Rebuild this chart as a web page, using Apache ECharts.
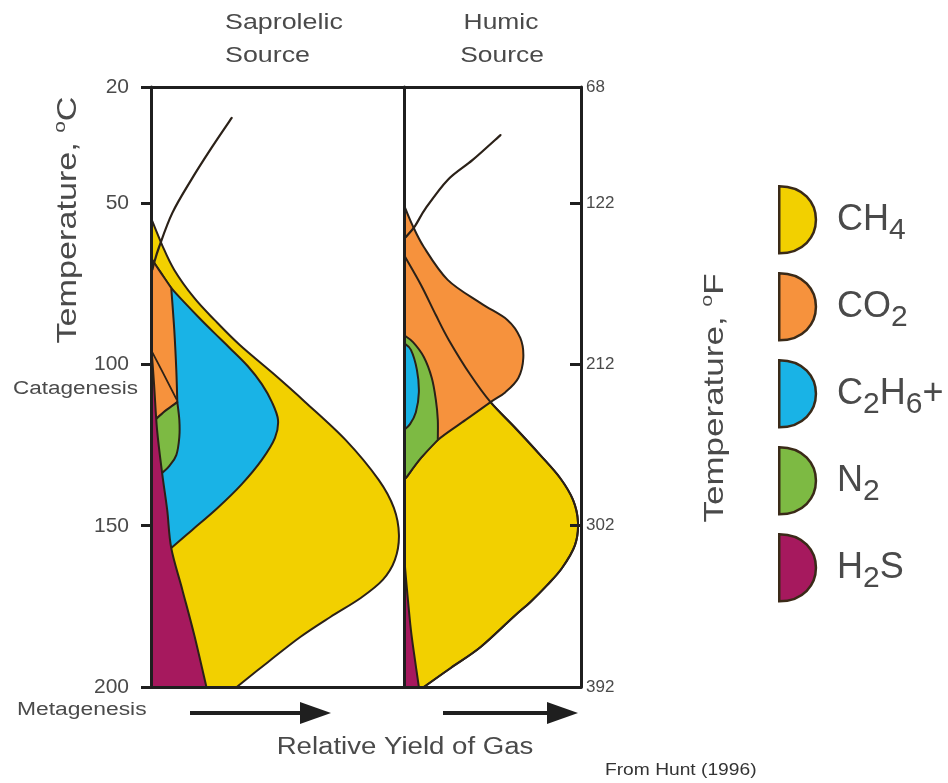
<!DOCTYPE html>
<html>
<head>
<meta charset="utf-8">
<title>Gas generation with temperature</title>
<script src="https://cdn.jsdelivr.net/npm/echarts@6.0.0/dist/echarts.min.js"></script>
<style>
  html, body { margin: 0; padding: 0; background: #ffffff; }
  #chart { width: 948px; height: 783px; }
</style>
</head>
<body>
<div id="chart"></div>
<script>
// ---------------------------------------------------------------------------
// Temperature axis (°C, increasing downward). The column top is drawn
// compressed in this classic diagram: its tick reads 20 °C / 68 °F.
// ---------------------------------------------------------------------------
const tempAxisTop = 14;
const tempAxisBottom = 200;
const celsiusTickValues = [tempAxisTop, 50, 100, 150, 200];
const celsiusTickLabels = ['20', '50', '100', '150', '200'];
const fahrenheitTickLabels = ['68', '122', '212', '302', '392'];
const fahrenheitTickMarks = [50, 100, 150];

// Gases, in legend order
const gasNames = ['CH4', 'CO2', 'C2H6+', 'N2', 'H2S'];
const gasColors = ['#f2d000', '#f6923d', '#19b3e6', '#7dba43', '#a6195e'];
const gasLabels = [
  '{h|\u200b}{a|CH}{b|4}',
  '{h|\u200b}{a|CO}{b|2}',
  '{h|\u200b}{a|C}{b|2}{a|H}{b|6}{a|+}',
  '{h|\u200b}{a|N}{b|2}',
  '{h|\u200b}{a|H}{b|2}{a|S}'
];

// ---------------------------------------------------------------------------
// Region outlines as [relative yield (0-1 of panel), temperature °C].
// Each outline is a list of runs; a run is drawn as one smooth curve and
// consecutive runs meet at a corner. Outlines close back to their start.
// ---------------------------------------------------------------------------

// Saprolelic source
const sapCH4 = [
  [[0, 54.6], [0.044, 63.0], [0.092, 70.7], [0.171, 79.4], [0.251, 86.2], [0.351, 94.0],
   [0.490, 103.3], [0.610, 111.7], [0.769, 123.4], [0.900, 135.8], [0.960, 144.5],
   [0.980, 152.9], [0.964, 160.6], [0.916, 166.8], [0.829, 172.4], [0.709, 178.3],
   [0.590, 184.5], [0.462, 192.3], [0.339, 200]],
  [[0.339, 200], [0, 200]]
];
const sapC2H6 = [
  [[0, 67.0], [0.040, 71.7], [0.080, 76.3], [0.131, 80.7], [0.191, 85.6], [0.251, 90.3],
   [0.311, 94.9], [0.382, 100.5], [0.438, 106.1], [0.478, 111.7], [0.502, 117.2],
   [0.490, 122.8], [0.438, 129.6], [0.359, 137.1], [0.263, 144.5], [0.163, 151.3],
   [0.080, 156.9]],
  [[0.080, 156.9], [0, 156.9]]
];
const sapCO2 = [
  [[0, 67.0], [0.040, 71.7], [0.080, 76.3]],
  [[0.080, 76.3], [0.092, 89.3], [0.100, 101.7], [0.104, 111.7]],
  [[0.104, 111.7], [0.024, 116.6], [0, 117.2]]
];
const sapN2 = [
  [[0.012, 117.5], [0.056, 114.4], [0.104, 111.7]],
  [[0.104, 111.7], [0.112, 117.2], [0.112, 122.5], [0.100, 128.1], [0.072, 131.5], [0.044, 133.7]],
  [[0.044, 133.7], [0, 133.7]]
];
const sapH2S = [
  [[0, 93.0], [0.012, 106.0], [0.024, 120.3], [0.044, 133.7], [0.064, 145.1], [0.080, 156.9],
   [0.124, 169.9], [0.171, 183.9], [0.219, 200]],
  [[0.219, 200], [0, 200]]
];
const sapN2Upper = [
  [[0, 95.5], [0.048, 102.7], [0.100, 110.7]]
];
const sapMaturity = [
  [[0.319, 23.6], [0.239, 32.9], [0.159, 42.8], [0.084, 53.1], [0.032, 63.6], [0.012, 68.6], [0.006, 70.5]]
];

// Humic source
const humCH4 = [
  [[0, 66.1], [0.096, 75.4], [0.180, 84.7], [0.253, 92.4], [0.376, 103.3], [0.489, 111.7],
   [0.629, 119.7], [0.770, 128.1], [0.882, 135.2], [0.955, 142.0], [0.983, 148.9],
   [0.966, 156.0], [0.893, 163.1], [0.809, 168.4], [0.713, 173.7], [0.618, 178.3],
   [0.433, 187.6], [0.264, 194.1], [0.112, 200]],
  [[0.112, 200], [0, 200]]
];
const humCO2 = [
  [[0, 50.6], [0.045, 56.5], [0.112, 63.6], [0.247, 73.8], [0.433, 81.0], [0.584, 86.2],
   [0.657, 91.8], [0.674, 98.0], [0.646, 104.2], [0.573, 108.6], [0.489, 111.7],
   [0.348, 117.2], [0.191, 123.4], [0.096, 129.0], [0.011, 135.2]],
  [[0.011, 135.2], [0, 135.2]]
];
const humN2 = [
  [[0, 90.9], [0.051, 93.1], [0.112, 97.7], [0.157, 104.2], [0.180, 111.0], [0.191, 117.2], [0.191, 123.4]],
  [[0.191, 123.4], [0.096, 129.0], [0.011, 135.2]],
  [[0.011, 135.2], [0, 135.2]]
];
const humC2H6 = [
  [[0, 93.4], [0.039, 95.5], [0.073, 101.7], [0.084, 108.6], [0.067, 114.8], [0.034, 118.5], [0, 120.3]]
];
const humH2S = [
  [[0, 159.1], [0.017, 169.9], [0.039, 182.3], [0.062, 191.6], [0.084, 200]],
  [[0.084, 200], [0, 200]]
];
const humMaturity = [
  [[0.545, 28.9], [0.388, 36.6], [0.247, 42.8], [0.124, 51.5], [0.062, 57.1], [0.011, 60.5]]
];

// ---------------------------------------------------------------------------
const FONT = '"Liberation Sans", Arial, Helvetica, sans-serif';
const INK = '#1f1f1f';
const OUTLINE = '#2b2118';
const TEXT = '#4a4a4a';

const SAP = { x: 0, y: 0 };
const HUM = { x: 2, y: 2 };

// Smooth (Catmull-Rom) path through the runs, in pixel space via the axes.
function outlinePath(api, runs, closed) {
  let d = '';
  runs.forEach(function (run, k) {
    const pts = run.map(function (p) { return api.coord(p); });
    if (k === 0) d += 'M' + pts[0][0] + ',' + pts[0][1];
    for (let i = 0; i < pts.length - 1; i++) {
      const p0 = pts[Math.max(i - 1, 0)];
      const p1 = pts[i];
      const p2 = pts[i + 1];
      const p3 = pts[Math.min(i + 2, pts.length - 1)];
      const c1x = p1[0] + (p2[0] - p0[0]) / 6, c1y = p1[1] + (p2[1] - p0[1]) / 6;
      const c2x = p2[0] - (p3[0] - p1[0]) / 6, c2y = p2[1] - (p3[1] - p1[1]) / 6;
      d += 'C' + c1x + ',' + c1y + ',' + c2x + ',' + c2y + ',' + p2[0] + ',' + p2[1];
    }
  });
  if (closed) d += 'Z';
  return d;
}

function regionSeries(gas, runs, panel) {
  const color = gasColors[gasNames.indexOf(gas)];
  return {
    type: 'custom',
    name: gas,
    coordinateSystem: 'cartesian2d',
    xAxisIndex: panel.x,
    yAxisIndex: panel.y,
    clip: true,
    silent: true,
    itemStyle: { color: color, borderColor: OUTLINE, borderWidth: 2 },
    data: [[0.5, 100]],
    renderItem: function (params, api) {
      return {
        type: 'path',
        shape: { pathData: outlinePath(api, runs, true) },
        style: { fill: color, stroke: OUTLINE, lineWidth: 2, lineJoin: 'round' }
      };
    }
  };
}

function strokeSeries(id, runs, panel, width) {
  return {
    type: 'custom',
    id: id,
    coordinateSystem: 'cartesian2d',
    xAxisIndex: panel.x,
    yAxisIndex: panel.y,
    clip: true,
    silent: true,
    data: [[0.5, 100]],
    renderItem: function (params, api) {
      return {
        type: 'path',
        shape: { pathData: outlinePath(api, runs, false) },
        style: { fill: 'none', stroke: OUTLINE, lineWidth: width, lineCap: 'round' }
      };
    }
  };
}

const frameLine = { color: INK, width: 3 };

function xFrame(gridIndex, position) {
  return {
    type: 'value', gridIndex: gridIndex, min: 0, max: 1, position: position, z: 10,
    axisLine: { show: true, onZero: false, lineStyle: frameLine },
    axisTick: { show: false }, axisLabel: { show: false }, splitLine: { show: false }
  };
}

const chart = echarts.init(document.getElementById('chart'), null, { renderer: 'canvas' });

chart.setOption({
  animation: false,
  backgroundColor: '#ffffff',
  grid: [
    { left: 151, top: 87, width: 253, height: 600 },
    { left: 404, top: 87, width: 177, height: 600 }
  ],
  xAxis: [xFrame(0, 'bottom'), xFrame(0, 'top'), xFrame(1, 'bottom'), xFrame(1, 'top')],
  yAxis: [
    {
      type: 'value', gridIndex: 0, min: tempAxisTop, max: tempAxisBottom, inverse: true,
      position: 'left', z: 10,
      axisLine: { show: true, onZero: false, lineStyle: frameLine },
      axisTick: { show: true, inside: false, length: 10, customValues: celsiusTickValues,
                  lineStyle: { color: INK, width: 3 } },
      axisLabel: {
        customValues: celsiusTickValues, margin: 22,
        formatter: function (v) { return celsiusTickLabels[celsiusTickValues.indexOf(v)]; },
        fontFamily: FONT, fontSize: 21, color: TEXT
      },
      splitLine: { show: false }
    },
    {
      type: 'value', gridIndex: 0, min: tempAxisTop, max: tempAxisBottom, inverse: true,
      position: 'right', z: 10,
      axisLine: { show: true, onZero: false, lineStyle: frameLine },
      axisTick: { show: false }, axisLabel: { show: false }, splitLine: { show: false }
    },
    {
      type: 'value', gridIndex: 1, min: tempAxisTop, max: tempAxisBottom, inverse: true,
      position: 'right', z: 10,
      axisLine: { show: true, onZero: false, lineStyle: frameLine },
      axisTick: { show: true, inside: true, length: 11, customValues: fahrenheitTickMarks,
                  lineStyle: { color: INK, width: 3 } },
      axisLabel: {
        customValues: celsiusTickValues, margin: 5,
        formatter: function (v) { return fahrenheitTickLabels[celsiusTickValues.indexOf(v)]; },
        fontFamily: FONT, fontSize: 17, color: TEXT
      },
      splitLine: { show: false }
    }
  ],
  legend: {
    data: gasNames,
    orient: 'vertical',
    left: 773,
    top: 180,
    itemWidth: 37,
    itemHeight: 67,
    itemGap: 17.5,
    selectedMode: false,
    icon: 'path://M0,0C73,0,73,100,0,100Z',
    itemStyle: { borderColor: '#3a2a18', borderWidth: 2.5 },
    formatter: function (name) { return gasLabels[gasNames.indexOf(name)]; },
    textStyle: {
      color: TEXT,
      fontFamily: FONT,
      padding: [8, 0, 0, 16],
      rich: {
        h: { fontSize: 1, lineHeight: 44, width: 0 },
        a: { fontFamily: FONT, fontSize: 36, lineHeight: 36, color: TEXT, verticalAlign: 'top' },
        b: { fontFamily: FONT, fontSize: 30, lineHeight: 30, color: TEXT, verticalAlign: 'bottom' }
      }
    }
  },
  graphic: [
    { type: 'text', x: 225, y: 23, scaleX: 1.22,
      style: { text: 'Saprolelic', fontFamily: FONT, fontSize: 22, fill: TEXT, align: 'left', verticalAlign: 'middle' } },
    { type: 'text', x: 225, y: 56, scaleX: 1.22,
      style: { text: 'Source', fontFamily: FONT, fontSize: 22, fill: TEXT, align: 'left', verticalAlign: 'middle' } },
    { type: 'text', x: 501, y: 23, scaleX: 1.2,
      style: { text: 'Humic', fontFamily: FONT, fontSize: 22, fill: TEXT, align: 'center', verticalAlign: 'middle' } },
    { type: 'text', x: 502, y: 56, scaleX: 1.2,
      style: { text: 'Source', fontFamily: FONT, fontSize: 22, fill: TEXT, align: 'center', verticalAlign: 'middle' } },
    { type: 'text', x: 67, y: 220, rotation: Math.PI / 2, scaleX: 1.22,
      style: {
        text: '{t|Temperature, }{s|o}{t|C}', align: 'center', verticalAlign: 'middle',
        rich: {
          t: { fontFamily: FONT, fontSize: 28, lineHeight: 30, fill: TEXT, verticalAlign: 'bottom' },
          s: { fontFamily: FONT, fontSize: 17, lineHeight: 17, fill: TEXT, verticalAlign: 'top' }
        }
      } },
    { type: 'text', x: 714, y: 398, rotation: Math.PI / 2, scaleX: 1.25,
      style: {
        text: '{t|Temperature, }{s|o}{t|F}', align: 'center', verticalAlign: 'middle',
        rich: {
          t: { fontFamily: FONT, fontSize: 28, lineHeight: 30, fill: TEXT, verticalAlign: 'bottom' },
          s: { fontFamily: FONT, fontSize: 17, lineHeight: 17, fill: TEXT, verticalAlign: 'top' }
        }
      } },
    { type: 'text', x: 138, y: 389, scaleX: 1.25,
      style: { text: 'Catagenesis', fontFamily: FONT, fontSize: 18, fill: TEXT, align: 'right', verticalAlign: 'middle' } },
    { type: 'text', x: 17, y: 710, scaleX: 1.27,
      style: { text: 'Metagenesis', fontFamily: FONT, fontSize: 18, fill: TEXT, align: 'left', verticalAlign: 'middle' } },
    { type: 'text', x: 405, y: 748, scaleX: 1.2,
      style: { text: 'Relative Yield of Gas', fontFamily: FONT, fontSize: 23, fill: TEXT, align: 'center', verticalAlign: 'middle' } },
    { type: 'text', x: 605, y: 771, scaleX: 1.2,
      style: { text: 'From Hunt (1996)', fontFamily: FONT, fontSize: 16, fill: '#333333', align: 'left', verticalAlign: 'middle' } },
    // direction arrows for increasing yield
    { type: 'line', shape: { x1: 190, y1: 713, x2: 304, y2: 713 }, style: { stroke: INK, lineWidth: 4 } },
    { type: 'polygon', shape: { points: [[300, 702], [331, 713], [300, 724]] }, style: { fill: INK } },
    { type: 'line', shape: { x1: 443, y1: 713, x2: 551, y2: 713 }, style: { stroke: INK, lineWidth: 4 } },
    { type: 'polygon', shape: { points: [[547, 702], [578, 713], [547, 724]] }, style: { fill: INK } }
  ],
  series: [
    // Saprolelic source
    regionSeries('CH4', sapCH4, SAP),
    regionSeries('C2H6+', sapC2H6, SAP),
    regionSeries('CO2', sapCO2, SAP),
    regionSeries('N2', sapN2, SAP),
    regionSeries('H2S', sapH2S, SAP),
    strokeSeries('sap-n2-upper', sapN2Upper, SAP, 1.8),
    strokeSeries('sap-maturity', sapMaturity, SAP, 2.2),
    // Humic source
    regionSeries('CH4', humCH4, HUM),
    regionSeries('CO2', humCO2, HUM),
    regionSeries('N2', humN2, HUM),
    regionSeries('C2H6+', humC2H6, HUM),
    regionSeries('H2S', humH2S, HUM),
    strokeSeries('hum-ch4-envelope', [humCH4[0]], HUM, 2),
    strokeSeries('hum-maturity', humMaturity, HUM, 2.2)
  ]
});
</script>
</body>
</html>
